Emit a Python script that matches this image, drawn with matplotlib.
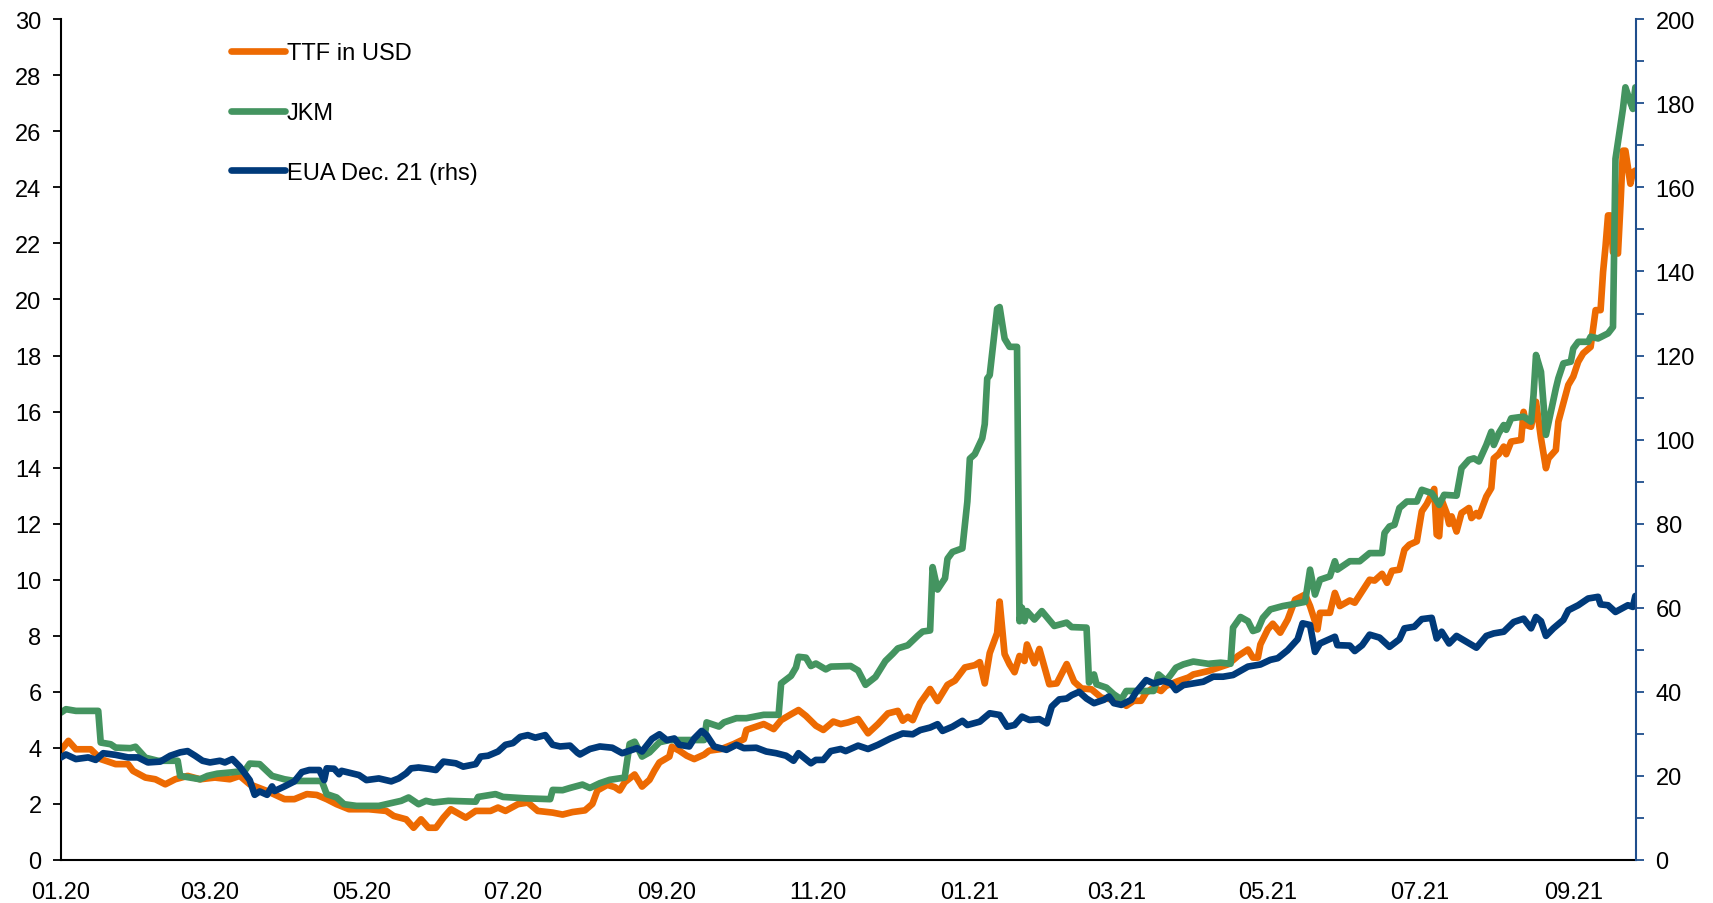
import matplotlib
matplotlib.use('Agg')
import matplotlib.pyplot as plt
import matplotlib.dates as mdates
from matplotlib.ticker import MultipleLocator
import pandas as pd

plt.rcParams['font.family'] = ['Liberation Sans', 'DejaVu Sans']

# days since 01.01.2020 and values
start = pd.Timestamp('2020-01-01')

ttf_days = [0, 3, 6, 12, 16, 22, 27, 29, 34, 38, 42, 46, 51, 56, 62, 68, 72, 76, 83, 90,
            94, 99, 103, 107, 111, 116, 124, 131, 134, 139, 142, 145, 148, 151, 154, 157, 163, 167, 173, 176,
            179, 184, 188, 192, 198, 202, 206, 211, 214, 216, 220, 223, 225, 227, 231, 234, 237, 239, 241, 245,
            246, 249, 252, 255, 259, 261, 266, 271, 275, 276, 279, 283, 287, 290, 294, 297, 300, 304, 307, 311,
            314, 317, 321, 325, 329, 333, 337, 339, 341, 343, 346, 350, 353, 357, 360, 364, 368, 370, 372, 374,
            377, 378, 380, 382, 384, 386, 388, 389, 392, 394, 398, 401, 405, 408, 411, 415, 419, 423, 427, 429,
            432, 435, 437, 440, 443, 445, 450, 454, 456, 462, 466, 470, 474, 478, 480, 482, 483, 486, 488, 491,
            494, 497, 501, 503, 506, 507, 511, 513, 515, 519, 521, 524, 527, 529, 532, 534, 536, 539, 541, 543,
            546, 548, 550, 553, 554, 555, 556, 558, 559, 560, 562, 564, 567, 568, 570, 571, 574, 576, 577, 579,
            581, 582, 584, 588, 589, 590, 592, 594, 596, 598, 599, 602, 603, 605, 607, 609, 611, 613, 616, 617,
            618, 620, 621, 622, 623, 624, 625, 627, 628, 629, 630, 632, 633, 634]
ttf_usd = [3.92, 4.25, 3.95, 3.95, 3.6, 3.42, 3.42, 3.18, 2.94, 2.88, 2.7, 2.88, 3.0, 2.88, 2.94, 2.88, 3.0, 2.7, 2.46, 2.17,
           2.17, 2.35, 2.32, 2.17, 1.99, 1.81, 1.81, 1.75, 1.57, 1.45, 1.15, 1.45, 1.15, 1.15, 1.51, 1.81, 1.51, 1.75, 1.75, 1.87,
           1.75, 1.99, 2.05, 1.75, 1.69, 1.62, 1.71, 1.77, 2.0, 2.48, 2.68, 2.6, 2.48, 2.77, 3.05, 2.62, 2.86, 3.19, 3.48, 3.69,
           4.04, 3.9, 3.72, 3.6, 3.76, 3.9, 3.96, 4.14, 4.31, 4.64, 4.73, 4.85, 4.67, 4.99, 5.2, 5.35, 5.14, 4.79, 4.64, 4.94,
           4.85, 4.91, 5.03, 4.52, 4.85, 5.23, 5.32, 4.97, 5.11, 4.99, 5.6, 6.1, 5.67, 6.25, 6.4, 6.87, 6.95, 7.06, 6.3, 7.38,
           8.1, 9.22, 7.35, 6.98, 6.7, 7.28, 7.1, 7.69, 7.02, 7.53, 6.27, 6.3, 6.99, 6.36, 6.12, 6.09, 5.79, 5.73, 5.68, 5.5,
           5.68, 5.68, 5.97, 6.15, 6.03, 6.21, 6.39, 6.51, 6.62, 6.74, 6.86, 6.98, 7.28, 7.51, 7.22, 7.22, 7.69, 8.23, 8.43, 8.11,
           8.58, 9.29, 9.47, 9.06, 8.23, 8.82, 8.82, 9.53, 9.06, 9.26, 9.18, 9.59, 10.0, 9.97, 10.21, 9.89, 10.32, 10.36, 11.07, 11.25,
           11.37, 12.44, 12.7, 13.24, 11.61, 11.55, 12.85, 12.38, 11.99, 12.26, 11.72, 12.38, 12.56, 12.2, 12.38, 12.26, 12.97, 13.27, 14.33, 14.48,
           14.75, 14.48, 14.93, 14.99, 15.99, 15.52, 15.46, 16.35, 15.05, 13.98, 14.33, 14.63, 15.64, 16.3, 16.95, 17.25, 17.78, 18.08, 18.31, 18.97,
           19.62, 19.62, 20.98, 21.9, 23.0, 23.0, 21.69, 21.64, 23.36, 25.31, 25.31, 24.13, 24.54, 24.6]

jkm_days = [0, 2, 6, 15, 16, 20, 22, 28, 30, 34, 39, 47, 48, 56, 59, 63, 68, 74, 76, 80,
            85, 90, 94, 105, 107, 111, 114, 119, 128, 134, 137, 140, 144, 147, 150, 156, 167, 168, 175, 178,
            187, 197, 198, 202, 205, 210, 213, 217, 221, 227, 229, 231, 234, 237, 239, 241, 245, 254, 259, 260,
            265, 267, 272, 276, 283, 289, 290, 294, 296, 297, 300, 302, 304, 308, 310, 318, 321, 324, 328, 332,
            335, 337, 341, 345, 347, 350, 351, 353, 356, 357, 359, 363, 365, 366, 368, 371, 372, 373, 374, 377,
            378, 380, 382, 385, 386, 387, 388, 389, 392, 395, 400, 405, 407, 413, 414, 416, 417, 421, 424, 427,
            429, 440, 442, 445, 447, 449, 452, 456, 462, 467, 471, 472, 475, 478, 480, 482, 484, 487, 492, 497,
            501, 503, 505, 507, 511, 513, 514, 519, 523, 527, 532, 533, 535, 537, 539, 542, 546, 548, 552, 555,
            557, 562, 564, 567, 569, 571, 574, 576, 577, 579, 581, 582, 584, 589, 592, 593, 594, 596, 598, 602,
            603, 605, 608, 609, 611, 615, 616, 619, 623, 625, 626, 629, 630, 632, 633, 634]
jkm = [5.26, 5.38, 5.32, 5.32, 4.19, 4.13, 4.01, 3.99, 4.04, 3.65, 3.54, 3.54, 3.0, 2.88, 3.0, 3.08, 3.12, 3.18, 3.44, 3.42,
       3.0, 2.88, 2.82, 2.82, 2.35, 2.23, 1.99, 1.93, 1.93, 2.05, 2.11, 2.23, 1.99, 2.11, 2.05, 2.11, 2.08, 2.25, 2.35, 2.25,
       2.2, 2.17, 2.5, 2.49, 2.57, 2.69, 2.57, 2.74, 2.86, 2.94, 4.14, 4.22, 3.69, 3.84, 4.02, 4.2, 4.28, 4.28, 4.28, 4.91,
       4.76, 4.91, 5.06, 5.06, 5.18, 5.18, 6.3, 6.57, 6.87, 7.25, 7.22, 6.92, 7.01, 6.8, 6.9, 6.92, 6.76, 6.25, 6.53, 7.1,
       7.36, 7.55, 7.66, 8.0, 8.15, 8.19, 10.45, 9.65, 10.05, 10.75, 10.99, 11.12, 12.79, 14.32, 14.48, 15.05, 15.55, 17.18, 17.3, 19.67,
       19.73, 18.6, 18.31, 18.31, 8.52, 9.0, 8.52, 8.88, 8.58, 8.88, 8.35, 8.47, 8.31, 8.29, 6.33, 6.62, 6.27, 6.15, 5.91, 5.73,
       6.03, 6.03, 6.62, 6.39, 6.62, 6.86, 6.98, 7.08, 7.0, 7.04, 7.0, 8.29, 8.67, 8.52, 8.17, 8.23, 8.64, 8.94, 9.06, 9.14,
       9.21, 10.36, 9.47, 10.0, 10.12, 10.66, 10.36, 10.66, 10.66, 10.95, 10.95, 11.67, 11.9, 11.96, 12.56, 12.79, 12.79, 13.21, 13.09, 12.67,
       13.03, 13.0, 13.98, 14.28, 14.33, 14.22, 14.81, 15.28, 14.81, 15.23, 15.52, 15.35, 15.76, 15.82, 15.64, 16.59, 18.02, 17.42, 15.17, 16.83,
       17.19, 17.72, 17.78, 18.25, 18.49, 18.49, 18.67, 18.61, 18.79, 19.02, 25.02, 26.8, 27.57, 27.03, 26.8, 27.57]

eua_days = [0, 2, 6, 11, 14, 17, 22, 27, 31, 35, 40, 44, 48, 51, 54, 57, 60, 64, 66, 69,
            72, 76, 78, 80, 83, 85, 86, 90, 94, 97, 100, 104, 106, 107, 110, 112, 113, 120, 123, 128,
            133, 136, 139, 141, 144, 148, 151, 154, 159, 162, 167, 169, 172, 176, 179, 182, 185, 188, 191, 195,
            198, 201, 205, 208, 209, 213, 217, 222, 226, 232, 234, 238, 241, 244, 247, 249, 253, 255, 258, 260,
            263, 268, 272, 275, 280, 284, 288, 292, 295, 297, 302, 304, 307, 310, 314, 316, 321, 325, 329, 334,
            339, 343, 346, 350, 353, 355, 359, 363, 365, 370, 374, 378, 381, 384, 387, 390, 394, 397, 399, 402,
            405, 407, 410, 413, 416, 420, 422, 424, 427, 431, 433, 437, 440, 444, 447, 449, 452, 456, 460, 464,
            468, 472, 478, 483, 487, 490, 494, 498, 500, 503, 505, 507, 513, 514, 519, 521, 524, 527, 531, 535,
            539, 541, 545, 548, 552, 554, 556, 559, 562, 566, 570, 574, 577, 581, 585, 589, 592, 594, 596, 598,
            601, 605, 607, 611, 615, 619, 620, 623, 626, 631, 633, 634]
eua_dec21 = [24.4, 25.1, 24.0, 24.4, 23.8, 25.4, 25.0, 24.4, 24.4, 23.2, 23.4, 24.8, 25.6, 25.9, 24.8, 23.6, 23.2, 23.6, 23.2, 24.0,
             22.2, 19.0, 15.5, 16.3, 15.5, 17.5, 16.4, 17.5, 18.7, 20.9, 21.4, 21.4, 19.0, 21.8, 21.7, 20.4, 21.2, 20.2, 19.0, 19.4,
             18.7, 19.4, 20.6, 21.8, 22.0, 21.7, 21.4, 23.4, 23.0, 22.2, 22.8, 24.6, 24.8, 25.8, 27.4, 27.8, 29.3, 29.7, 29.1, 29.7,
             27.4, 27.0, 27.2, 25.5, 25.1, 26.4, 27.0, 26.7, 25.4, 26.6, 25.8, 28.8, 29.9, 28.5, 28.9, 27.4, 27.0, 28.9, 30.7, 29.7,
             27.0, 26.2, 27.4, 26.6, 26.7, 25.8, 25.4, 24.8, 23.6, 25.4, 23.0, 23.8, 23.8, 25.9, 26.4, 25.9, 27.2, 26.4, 27.4, 28.9,
             30.1, 29.9, 30.9, 31.5, 32.3, 30.7, 31.7, 33.1, 32.1, 32.9, 34.9, 34.5, 31.7, 32.1, 34.1, 33.3, 33.5, 32.5, 36.5, 38.2,
             38.4, 39.2, 40.0, 38.4, 37.3, 38.1, 38.9, 37.3, 36.9, 38.1, 40.0, 42.8, 42.0, 42.6, 42.0, 40.4, 41.6, 42.0, 42.4, 43.6,
             43.6, 44.0, 46.0, 46.5, 47.6, 48.0, 49.9, 52.5, 56.3, 55.9, 49.5, 51.5, 53.1, 51.1, 51.0, 49.7, 51.1, 53.6, 52.9, 50.7,
             52.5, 55.1, 55.5, 57.3, 57.6, 52.7, 54.3, 51.5, 53.3, 51.9, 50.5, 53.3, 53.9, 54.3, 56.6, 57.4, 55.1, 57.8, 56.8, 53.3,
             55.1, 57.1, 59.4, 60.6, 62.2, 62.6, 60.8, 60.6, 59.0, 60.6, 60.2, 62.8]

c_ttf = '#ED6A02'
c_jkm = '#449460'
c_eua = '#003A7A'
c_axis2 = '#1F4E8C'


def to_dates(days):
    return start + pd.to_timedelta(days, unit='D')


fig = plt.figure(figsize=(17.13, 9.04), dpi=100)
ax = fig.add_axes([0.0356, 0.0476, 0.9195, 0.930])
ax2 = ax.twinx()

lw = 4.8
l1, = ax.plot(to_dates(ttf_days), ttf_usd, color=c_ttf, lw=lw, label='TTF in USD')
l2, = ax.plot(to_dates(jkm_days), jkm, color=c_jkm, lw=lw, label='JKM')
l3, = ax2.plot(to_dates(eua_days), eua_dec21, color=c_eua, lw=lw, label='EUA Dec. 21 (rhs)')

ax.set_xlim(start, start + pd.Timedelta(days=634.3))
ax.set_ylim(0, 30)
ax2.set_ylim(0, 200)

ax.xaxis.set_major_locator(mdates.MonthLocator(bymonth=[1, 3, 5, 7, 9, 11]))
ax.xaxis.set_major_formatter(mdates.DateFormatter('%m.%y'))
ax.tick_params(axis='x', length=0, pad=15, labelsize=17)

ax.yaxis.set_major_locator(MultipleLocator(2))
ax.tick_params(axis='y', direction='out', length=6, width=1.3, pad=8, labelsize=17)

ax2.yaxis.set_major_locator(MultipleLocator(20))
ax2.yaxis.set_minor_locator(MultipleLocator(10))
ax2.tick_params(axis='y', which='both', direction='out', length=6, width=1.3,
                color=c_axis2, pad=8, labelsize=17)

for a in (ax, ax2):
    a.spines['top'].set_visible(False)
ax.spines['right'].set_visible(False)
ax2.spines['left'].set_visible(False)
ax2.spines['bottom'].set_visible(False)
ax2.spines['right'].set_color(c_axis2)
ax2.spines['right'].set_linewidth(1.5)
ax.spines['left'].set_linewidth(1.5)
ax.spines['bottom'].set_linewidth(1.5)

for h in (l1, l2, l3):
    h.set_solid_capstyle('round')

leg = ax2.legend(handles=[l1, l2, l3], loc='upper left', bbox_to_anchor=(0.0945, 0.998),
                 frameon=False, fontsize=17, handlelength=2.3, handletextpad=0.05,
                 labelspacing=1.6)

fig.savefig('out.png', dpi=100)
